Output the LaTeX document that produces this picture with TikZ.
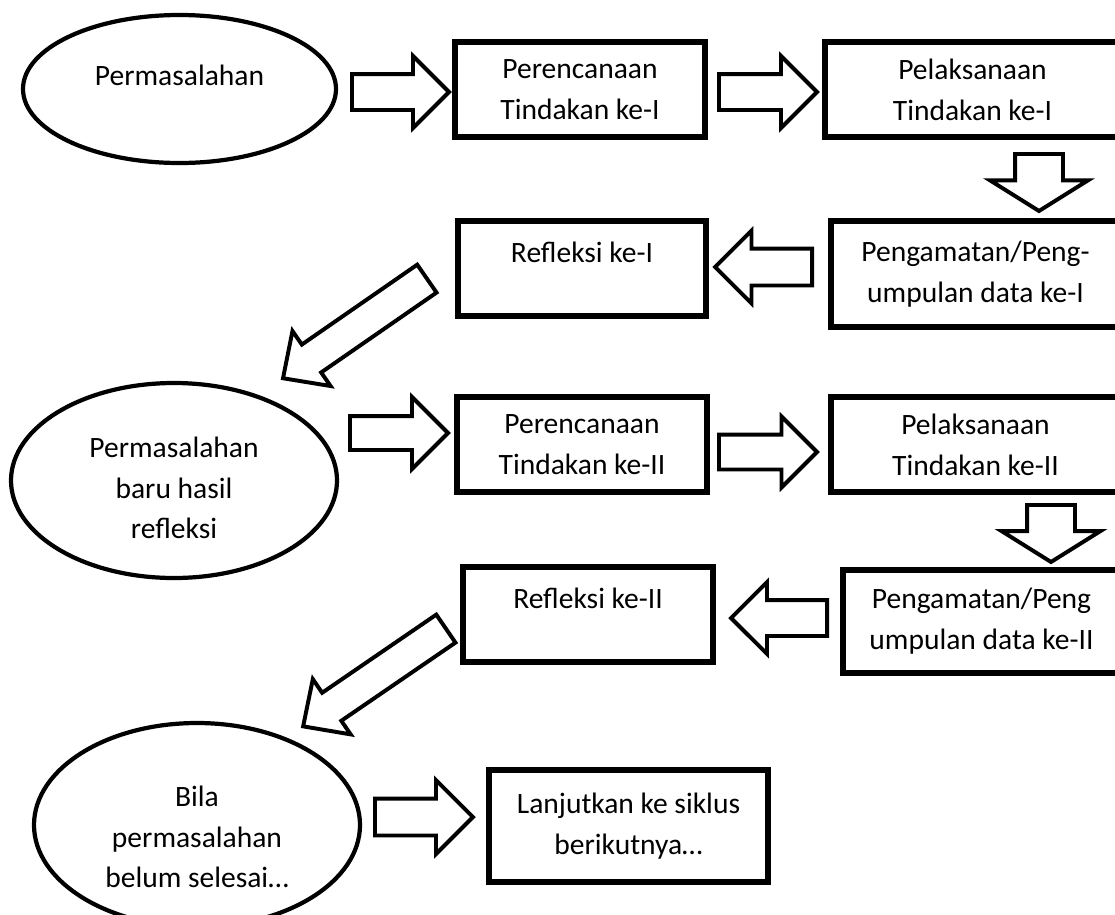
\documentclass[tikz,border=0pt]{standalone}
\usepackage{fontspec}
\setmainfont{Carlito}
\usetikzlibrary{shapes.geometric,shapes.arrows}
\newcommand{\pxu}{0.025cm}
\tikzset{
  kotak/.style={draw, line width=3.6pt, align=center, inner sep=0pt},
  elips/.style={ellipse, draw, line width=3pt, align=center, inner sep=0pt},
  panah/.style n args={4}{single arrow, draw, fill=white, line width=2.8pt, anchor=tail,
    rotate=#1, minimum height=#2*\pxu, minimum width=0pt, inner xsep=0pt,
    inner ysep=#3*\pxu/2, single arrow head extend=(#4-#3)*\pxu/2}
}
\begin{document}
\begin{tikzpicture}[x=\pxu, y=-\pxu, font=\fontsize{21}{29}\selectfont]
    \fill[white] (0,0) rectangle (1115,914);
    \useasboundingbox (0,0) rectangle (1115,914);
    % siklus I
    \node[elips, minimum width=313*\pxu, minimum height=148*\pxu] (masalah1) at (179.5,89) {Permasalahan\\[-0.65cm]\strut};
    \node[kotak, minimum width=250*\pxu, minimum height=95*\pxu] (rencana1) at (580,89.5) {Perencanaan\\Tindakan ke-I};
    \node[kotak, minimum width=295*\pxu, minimum height=95*\pxu] (laksana1) at (972.5,89.5) {Pelaksanaan\\Tindakan ke-I};
    \node[kotak, minimum width=289*\pxu, minimum height=106*\pxu] (amat1) at (975.5,274) {Pengamatan/Peng-\\umpulan data ke-I};
    \node[kotak, minimum width=248*\pxu, minimum height=95*\pxu] (refleksi1) at (582,268.5) {Refleksi ke-I\\[-0.5cm]\strut};
    % siklus II
    \node[elips, minimum width=326*\pxu, minimum height=195*\pxu] (masalah2) at (174,480.5) {\strut\\[-0.85cm]Permasalahan\\baru hasil\\refleksi};
    \node[kotak, minimum width=250*\pxu, minimum height=95*\pxu] (rencana2) at (582,444.5) {Perencanaan\\Tindakan ke-II};
    \node[kotak, minimum width=289*\pxu, minimum height=95*\pxu] (laksana2) at (975.5,444.5) {Pelaksanaan\\Tindakan ke-II};
    \node[kotak, minimum width=277*\pxu, minimum height=103*\pxu] (amat2) at (981.5,621.5) {Pengamatan/Peng\\umpulan data ke-II};
    \node[kotak, minimum width=250*\pxu, minimum height=95*\pxu] (refleksi2) at (588,614.5) {Refleksi ke-II\\[-0.5cm]\strut};
    % lanjut
    \node[elips, minimum width=326*\pxu, minimum height=204*\pxu] (masalah3) at (197,825) {\strut\\[-0.62cm]Bila\\permasalahan\\belum selesai…};
    \node[kotak, minimum width=279*\pxu, minimum height=112*\pxu] (lanjut) at (628.5,826) {Lanjutkan ke siklus\\berikutnya…};
    % panah blok
    \node[panah={0}{97}{32}{68}] (p1) at (350,92) {};
    \node[panah={0}{98}{32}{68}] (p2) at (717,92) {};
    \node[panah={-90}{57}{44}{94}, single arrow tip angle=116] (p3) at (1039,152) {};
    \node[panah={180}{97}{33}{69}] (p4) at (814,267) {};
    \node[panah={214.7}{175}{30}{63}, single arrow tip angle=88] (p5) at (428.5,277.5) {};
    \node[panah={0}{98}{30}{68}] (p6) at (348,433) {};
    \node[panah={0}{98}{31}{67}] (p7) at (717,452) {};
    \node[panah={-90}{57}{44}{95}, single arrow tip angle=116] (p8) at (1051,503) {};
    \node[panah={180}{96}{32}{68}] (p9) at (829,618) {};
    \node[panah={214.4}{173}{30}{63}, single arrow tip angle=88] (p10) at (447.5,627.5) {};
    \node[panah={0}{98}{33}{70}] (p11) at (373,817) {};
\end{tikzpicture}
\end{document}
